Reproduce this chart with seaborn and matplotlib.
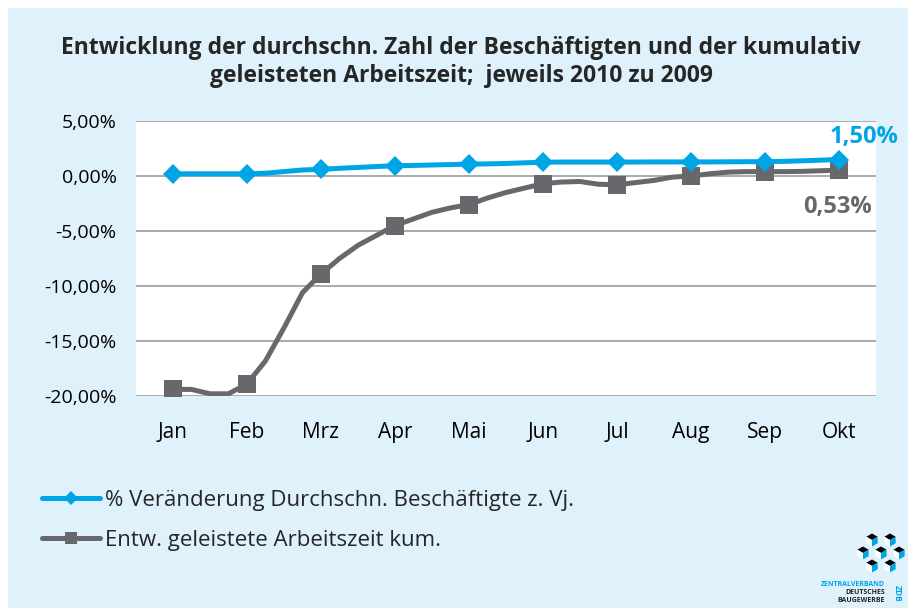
import numpy as np
import pandas as pd
import matplotlib
matplotlib.use("Agg")
import matplotlib.pyplot as plt
import seaborn as sns
from matplotlib.patches import Rectangle, Polygon
from matplotlib.lines import Line2D

sns.set_theme(style="white")
plt.rcParams['font.family'] = ['Open Sans', 'DejaVu Sans']

MONATE = ['Jan', 'Feb', 'Mrz', 'Apr', 'Mai', 'Jun', 'Jul', 'Aug', 'Sep', 'Okt']
# Wochenraster: vier Werte je Monat, Position in Monaten ab Januar
WOCHE = np.arange(37) / 4

BESCHAEFTIGTE = [0.20, 0.20, 0.20, 0.20, 0.20, 0.25, 0.40, 0.55,
                 0.60, 0.70, 0.78, 0.86, 0.94, 0.96, 1.00, 1.04,
                 1.08, 1.10, 1.14, 1.20, 1.25, 1.27, 1.27, 1.27,
                 1.27, 1.27, 1.28, 1.28, 1.28, 1.28, 1.29, 1.30,
                 1.30, 1.33, 1.38, 1.44, 1.50]
ARBEITSZEIT = [-19.4, -19.4, -19.8, -19.8, -18.9, -16.8, -13.8, -10.6,
               -8.9, -7.5, -6.3, -5.4, -4.5, -3.9, -3.3, -2.9,
               -2.6, -2.0, -1.5, -1.1, -0.7, -0.55, -0.5, -0.75,
               -0.8, -0.6, -0.4, -0.1, 0.0, 0.2, 0.35, 0.4,
               0.4, 0.4, 0.42, 0.48, 0.53]

LABEL_B = '% Veränderung Durchschn. Beschäftigte z. Vj.'
LABEL_A = 'Entw. geleistete Arbeitszeit kum.'
TITEL = ('Entwicklung der durchschn. Zahl der Beschäftigten und der kumulativ\n'
         'geleisteten Arbeitszeit;  jeweils 2010 zu 2009')

BLAU = '#00a5e6'
GRAU = '#68676c'
PANEL = '#dff1fb'

W, H = 908, 608
df = pd.DataFrame({'pos': WOCHE, 'b': BESCHAEFTIGTE, 'a': ARBEITSZEIT})

fig = plt.figure(figsize=(W / 100, H / 100), dpi=100)
fig.patch.set_facecolor('white')
fig.add_artist(Rectangle((8 / W, 0), 1, 1 - 8 / H, transform=fig.transFigure,
                         facecolor=PANEL, edgecolor='none', zorder=-10))

ax = fig.add_axes([136 / W, 1 - 396 / H, 740 / W, 275 / H])
ax.set_facecolor('white')

sns.lineplot(data=df, x='pos', y='a', ax=ax, color=GRAU, linewidth=3.6,
             marker='s', markersize=13, markevery=4, markeredgewidth=0,
             solid_joinstyle='round', zorder=3)
sns.lineplot(data=df, x='pos', y='b', ax=ax, color=BLAU, linewidth=3.6,
             marker='D', markersize=10, markevery=4, markeredgewidth=0,
             solid_joinstyle='round', zorder=4)

ax.set_xlim(-0.5, 9.5)
ax.set_ylim(-20, 5)
ax.set_yticks(np.arange(-20, 6, 5))
ax.set_yticklabels([f'{v:,.2f}%'.replace('.', ',') for v in np.arange(-20, 6, 5)])
ax.set_xticks(range(len(MONATE)))
ax.set_xticklabels(MONATE)
ax.tick_params(axis='both', length=0, colors='black')
ax.tick_params(axis='y', pad=14, labelsize=14)
ax.tick_params(axis='x', pad=19, labelsize=15)
ax.set_xlabel('')
ax.set_ylabel('')
ax.grid(axis='y', color='#9c9c9c', linewidth=1.2)
ax.set_axisbelow(True)
for s in ax.spines.values():
    s.set_visible(False)

ax.annotate('1,50%', xy=(9, BESCHAEFTIGTE[-1]), xytext=(25, 22),
            textcoords='offset pixels', ha='center', va='center',
            color=BLAU, fontsize=17, fontweight='bold')
ax.annotate('0,53%', xy=(9, ARBEITSZEIT[-1]), xytext=(-1, -37),
            textcoords='offset pixels', ha='center', va='center',
            color=GRAU, fontsize=17, fontweight='bold')

fig.text(461 / W, 1 - 62 / H, TITEL, ha='center', va='center',
         fontsize=16.5, fontweight='bold', linespacing=1.22)

handles = [Line2D([], [], color=BLAU, lw=3.6, marker='D', markersize=7, markeredgewidth=0),
           Line2D([], [], color=GRAU, lw=3.6, marker='s', markersize=9, markeredgewidth=0)]
fig.legend(handles, [LABEL_B, LABEL_A], loc='upper left',
           bbox_to_anchor=(42 / W, 1 - 490 / H), frameon=False, fontsize=16,
           handlelength=2.6, labelspacing=0.85, handletextpad=0.25,
           borderpad=0, borderaxespad=0)

# ZDB-Logo (vereinfacht)
def px(x, y):
    return (x / W, 1 - y / H)

def wuerfel(cx, cy, s, oben, links, rechts):
    top = [px(cx, cy - s), px(cx + s * 0.87, cy - s / 2), px(cx, cy), px(cx - s * 0.87, cy - s / 2)]
    lf = [px(cx - s * 0.87, cy - s / 2), px(cx, cy), px(cx, cy + s), px(cx - s * 0.87, cy + s / 2)]
    rf = [px(cx, cy), px(cx + s * 0.87, cy - s / 2), px(cx + s * 0.87, cy + s / 2), px(cx, cy + s)]
    for pts, c in ((top, oben), (lf, links), (rf, rechts)):
        fig.add_artist(Polygon(pts, closed=True, transform=fig.transFigure,
                               facecolor=c, edgecolor='none'))

for cx, cy in [(872, 540), (890, 540), (863, 553), (881, 553), (899, 553), (872, 566), (890, 566)]:
    wuerfel(cx, cy, 6.5, 'black', 'white', BLAU)

for txt, y in [('ZENTRALVERBAND', 585), ('DEUTSCHES', 593), ('BAUGEWERBE', 601)]:
    fig.text(885 / W, 1 - y / H, txt, ha='right', va='center', fontsize=5,
             fontweight='bold', color=BLAU if y == 585 else '#222222')
fig.text(897 / W, 1 - 593 / H, 'ZDB', ha='center', va='center', fontsize=6,
         fontweight='bold', color=BLAU, rotation=270)

fig.savefig('out.png', dpi=100, facecolor=fig.get_facecolor())
